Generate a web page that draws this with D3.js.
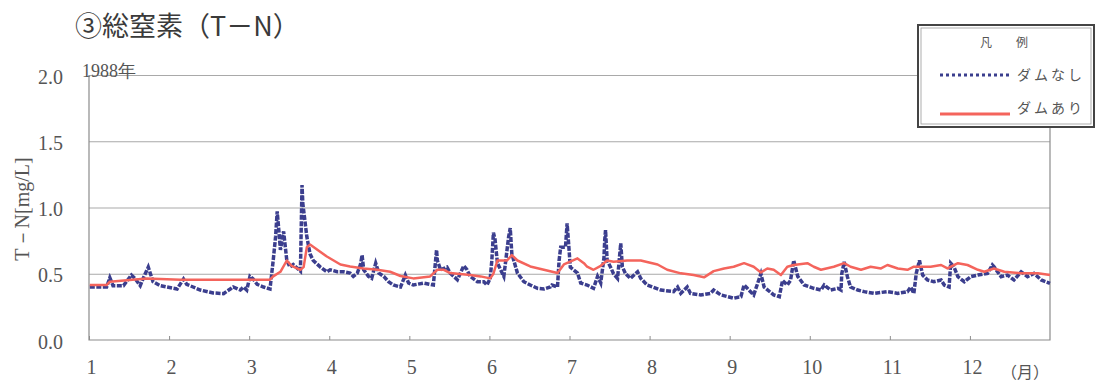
<!DOCTYPE html>
<html>
<head>
<meta charset="utf-8">
<script src="https://cdn.jsdelivr.net/npm/d3@7"></script>
<style>
  body { margin: 0; background: #fff; }
  #chart { width: 1101px; height: 385px; }
</style>
</head>
<body>
<div id="chart"></div>
<script>
// months on the x axis (1 = January ... 12 = December), unit "月"
const monthTicks = [1, 2, 3, 4, 5, 6, 7, 8, 9, 10, 11, 12];
const yTicks = [0, 0.5, 1.0, 1.5, 2.0];

// ダムなし (without dam) - x in month units, value in mg/L
const noDamX = [1.01, 1.14, 1.22, 1.26, 1.30, 1.43, 1.53, 1.58, 1.64, 1.68, 1.74, 1.80, 1.89, 1.97,
  2.10, 2.18, 2.22, 2.30, 2.39, 2.55, 2.68, 2.80, 2.89, 2.93, 2.97, 3.01, 3.05, 3.10, 3.18, 3.26,
  3.30, 3.33, 3.35, 3.37, 3.39, 3.43, 3.47, 3.51, 3.55, 3.64, 3.66, 3.67, 3.69, 3.72, 3.76, 3.80,
  3.89, 3.97, 4.01, 4.10, 4.18, 4.26, 4.30, 4.35, 4.39, 4.41, 4.43, 4.49, 4.53, 4.58, 4.62, 4.68,
  4.74, 4.80, 4.89, 4.95, 4.99, 5.05, 5.18, 5.30, 5.34, 5.35, 5.39, 5.47, 5.51, 5.60, 5.68, 5.72,
  5.76, 5.85, 5.93, 5.97, 6.01, 6.03, 6.05, 6.07, 6.10, 6.14, 6.18, 6.24, 6.26, 6.28, 6.35, 6.43,
  6.51, 6.60, 6.68, 6.76, 6.78, 6.85, 6.87, 6.89, 6.95, 6.97, 6.99, 7.01, 7.10, 7.14, 7.22, 7.30,
  7.35, 7.39, 7.43, 7.44, 7.45, 7.47, 7.51, 7.55, 7.60, 7.64, 7.66, 7.70, 7.76, 7.85, 7.89, 7.97,
  8.14, 8.30, 8.35, 8.39, 8.47, 8.51, 8.64, 8.76, 8.80, 8.89, 9.05, 9.14, 9.18, 9.22, 9.30, 9.39,
  9.43, 9.55, 9.62, 9.66, 9.72, 9.76, 9.80, 9.85, 9.93, 10.05, 10.14, 10.18, 10.26, 10.35, 10.39,
  10.40, 10.43, 10.47, 10.51, 10.60, 10.68, 10.80, 10.97, 11.10, 11.22, 11.26, 11.30, 11.33, 11.37,
  11.41, 11.47, 11.55, 11.64, 11.68, 11.74, 11.76, 11.80, 11.85, 11.93, 12.01, 12.10, 12.22, 12.28,
  12.30, 12.39, 12.47, 12.55, 12.64, 12.72, 12.80, 12.89, 13.00];
const noDamVal = [0.40, 0.40, 0.40, 0.47, 0.41, 0.41, 0.49, 0.46, 0.41, 0.47, 0.55, 0.44, 0.41, 0.40,
  0.385, 0.46, 0.42, 0.40, 0.377, 0.355, 0.35, 0.40, 0.377, 0.40, 0.377, 0.48, 0.46, 0.42, 0.40, 0.385,
  0.60, 0.78, 0.97, 0.83, 0.68, 0.82, 0.60, 0.55, 0.57, 0.52, 1.17, 1.03, 0.93, 0.78, 0.65, 0.60,
  0.55, 0.515, 0.53, 0.515, 0.515, 0.505, 0.48, 0.505, 0.57, 0.64, 0.53, 0.48, 0.465, 0.58, 0.505, 0.48,
  0.44, 0.415, 0.40, 0.49, 0.43, 0.415, 0.43, 0.415, 0.68, 0.60, 0.53, 0.55, 0.505, 0.455, 0.56, 0.53,
  0.48, 0.44, 0.44, 0.415, 0.465, 0.60, 0.81, 0.76, 0.58, 0.53, 0.48, 0.78, 0.845, 0.65, 0.505, 0.44,
  0.415, 0.39, 0.385, 0.40, 0.415, 0.40, 0.60, 0.70, 0.70, 0.88, 0.72, 0.55, 0.505, 0.43, 0.415, 0.39,
  0.48, 0.43, 0.62, 0.755, 0.83, 0.60, 0.553, 0.50, 0.465, 0.73, 0.553, 0.50, 0.465, 0.515, 0.465, 0.415,
  0.377, 0.365, 0.40, 0.352, 0.40, 0.352, 0.34, 0.352, 0.377, 0.34, 0.315, 0.327, 0.415, 0.39, 0.34, 0.50,
  0.40, 0.34, 0.327, 0.45, 0.415, 0.45, 0.60, 0.48, 0.415, 0.39, 0.377, 0.415, 0.377, 0.39, 0.377,
  0.50, 0.59, 0.478, 0.40, 0.377, 0.365, 0.352, 0.365, 0.352, 0.365, 0.40, 0.352, 0.503, 0.60,
  0.49, 0.453, 0.44, 0.453, 0.415, 0.40, 0.58, 0.553, 0.478, 0.44, 0.478, 0.49, 0.503, 0.566,
  0.553, 0.478, 0.49, 0.453, 0.515, 0.478, 0.503, 0.453, 0.428];

// ダムあり (with dam)
const withDamX = [1.01, 1.22, 1.26, 1.72, 2.14, 3.26, 3.30, 3.39, 3.47, 3.53, 3.64, 3.68, 3.72, 3.76,
  3.97, 4.14, 4.26, 4.43, 4.60, 4.76, 4.89, 5.05, 5.26, 5.35, 5.43, 5.51, 5.76, 5.89, 6.01, 6.05,
  6.10, 6.22, 6.28, 6.35, 6.51, 6.68, 6.85, 6.93, 7.10, 7.18, 7.22, 7.30, 7.39, 7.47, 7.55, 7.72,
  7.89, 8.10, 8.22, 8.39, 8.55, 8.68, 8.80, 8.93, 9.05, 9.18, 9.30, 9.39, 9.47, 9.55, 9.64, 9.72,
  9.80, 9.97, 10.05, 10.14, 10.30, 10.43, 10.51, 10.64, 10.76, 10.89, 10.97, 11.10, 11.22, 11.30,
  11.51, 11.64, 11.72, 11.85, 11.97, 12.10, 12.18, 12.30, 12.43, 12.64, 12.85, 13.00];
const withDamVal = [0.415, 0.415, 0.44, 0.465, 0.455, 0.455, 0.48, 0.515, 0.60, 0.56, 0.53, 0.55, 0.70, 0.72,
  0.63, 0.57, 0.555, 0.54, 0.53, 0.515, 0.483, 0.465, 0.48, 0.53, 0.53, 0.505, 0.49, 0.48, 0.465, 0.50,
  0.60, 0.60, 0.64, 0.60, 0.555, 0.53, 0.505, 0.57, 0.616, 0.58, 0.553, 0.53, 0.56, 0.60, 0.59, 0.60,
  0.60, 0.57, 0.53, 0.503, 0.49, 0.473, 0.52, 0.54, 0.553, 0.58, 0.553, 0.51, 0.54, 0.53, 0.49, 0.553,
  0.566, 0.58, 0.553, 0.53, 0.553, 0.58, 0.553, 0.53, 0.553, 0.54, 0.566, 0.54, 0.53, 0.553,
  0.553, 0.566, 0.54, 0.58, 0.566, 0.53, 0.515, 0.54, 0.515, 0.503, 0.503, 0.49];

const colors = {
  noDam: "#3b3e8e",
  withDam: "#f4645c",
  grid: "#a9a9a9",
  frame: "#8c8c8c",
  text: "#555555",
  title: "#3a3a3a",
};
const serif = "'Liberation Serif', 'DejaVu Serif', serif";
const sans = "'Noto Sans CJK JP', 'Noto Sans', sans-serif";

const plot = { left: 89, right: 1050, top: 75, bottom: 340 };

const svg = d3.select("#chart").append("svg")
  .attr("width", 1101)
  .attr("height", 385);

const x = d3.scaleLinear().domain([1, 13]).range([plot.left, plot.right]);
const y = d3.scaleLinear().domain([0, 2]).range([plot.bottom, plot.top]);

// title
svg.append("text")
  .attr("x", 75).attr("y", 36)
  .style("font-family", sans)
  .style("font-size", "27px")
  .style("fill", colors.title)
  .text("③総窒素（T－N）");

// grid lines
const grid = svg.append("g")
  .attr("class", "grid")
  .attr("transform", `translate(${plot.left},0)`)
  .call(d3.axisLeft(y).tickValues(yTicks.slice(1)).tickSize(-(plot.right - plot.left)).tickFormat(""));
grid.select(".domain").remove();
grid.selectAll("line").attr("stroke", colors.grid).attr("stroke-width", 1);

// frame: left, bottom, right
svg.append("path")
  .attr("d", `M${plot.left},${plot.top}V${plot.bottom}H${plot.right}V${plot.top}`)
  .attr("fill", "none")
  .attr("stroke", colors.frame)
  .attr("stroke-width", 1.2);

// y axis labels
const yAxis = svg.append("g")
  .attr("transform", `translate(${plot.left},0)`)
  .call(d3.axisLeft(y).tickValues(yTicks).tickSize(0).tickPadding(26).tickFormat(d3.format(".1f")));
yAxis.select(".domain").remove();
yAxis.selectAll("text")
  .style("font-family", serif)
  .style("font-size", "20px")
  .style("fill", colors.text)
  .attr("dy", "0.4em");

// x axis: small inward ticks with labels under them
const xAxis = svg.append("g")
  .attr("transform", `translate(0,${plot.bottom})`)
  .call(d3.axisBottom(x).tickValues(monthTicks).tickSize(-4).tickPadding(20).tickFormat(d3.format("d")));
xAxis.select(".domain").remove();
xAxis.selectAll("line").attr("stroke", colors.frame);
xAxis.selectAll("text")
  .style("font-family", serif)
  .style("font-size", "20px")
  .style("fill", colors.text)
  .attr("dx", "2");

svg.append("text")
  .attr("x", 1025).attr("y", 378)
  .attr("text-anchor", "middle")
  .style("font-family", sans)
  .style("font-size", "16px")
  .style("fill", colors.text)
  .text("（月）");

// year label
svg.append("text")
  .attr("x", 82).attr("y", 77)
  .style("font-family", serif)
  .style("font-size", "18px")
  .style("fill", colors.text)
  .text("1988年");

// y axis title
svg.append("text")
  .attr("transform", "translate(29,209) rotate(-90)")
  .attr("text-anchor", "middle")
  .style("font-family", serif)
  .style("font-size", "20px")
  .style("fill", colors.text)
  .text("T－N[mg/L]");

// series
const line = d3.line().x(d => x(d[0])).y(d => y(d[1]));

svg.append("path")
  .datum(noDamX.map((m, i) => [m, noDamVal[i]]))
  .attr("d", line)
  .attr("fill", "none")
  .attr("stroke", colors.noDam)
  .attr("stroke-width", 3.5)
  .attr("stroke-dasharray", "5,1.5");

svg.append("path")
  .datum(withDamX.map((m, i) => [m, withDamVal[i]]))
  .attr("d", line)
  .attr("fill", "none")
  .attr("stroke", colors.withDam)
  .attr("stroke-width", 2.5)
  .attr("stroke-linejoin", "round");

// legend box
const legend = svg.append("g").attr("class", "legend");
legend.append("rect")
  .attr("x", 918).attr("y", 25).attr("width", 176).attr("height", 102)
  .attr("fill", "#fff")
  .attr("stroke", "#444")
  .attr("stroke-width", 2);
legend.append("rect")
  .attr("x", 921).attr("y", 28).attr("width", 170).attr("height", 96)
  .attr("fill", "none")
  .attr("stroke", "#999")
  .attr("stroke-width", 0.8);
legend.append("text")
  .attr("x", 1004).attr("y", 47)
  .attr("text-anchor", "middle")
  .style("font-family", sans)
  .style("font-size", "12px")
  .style("fill", colors.text)
  .text("凡　　例");

const legendItems = [
  { label: "ダムなし", color: colors.noDam, width: 3, dash: "3,3", y: 75 },
  { label: "ダムあり", color: colors.withDam, width: 3, dash: null, y: 114 },
];
legendItems.forEach(item => {
  legend.append("line")
    .attr("x1", 940).attr("x2", 1010)
    .attr("y1", item.y).attr("y2", item.y)
    .attr("stroke", item.color)
    .attr("stroke-width", item.width)
    .attr("stroke-dasharray", item.dash);
  legend.append("text")
    .attr("x", 1017).attr("y", item.y - (item.dash ? 0 : 6))
    .attr("dy", "0.35em")
    .style("font-family", sans)
    .style("font-size", "14px")
    .style("letter-spacing", "3px")
    .style("fill", colors.text)
    .text(item.label);
});
</script>
</body>
</html>
